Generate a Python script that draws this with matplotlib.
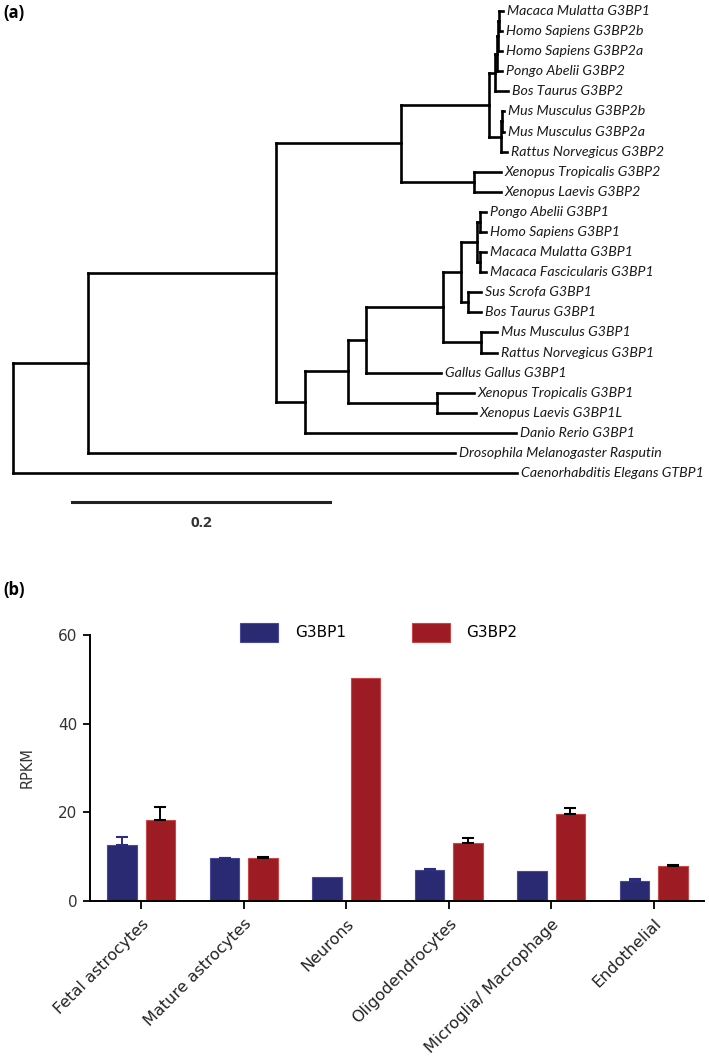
import numpy as np
import matplotlib
matplotlib.use('Agg')
import matplotlib.pyplot as plt

# ---- (a) tree data: leaves listed top to bottom, depth = distance from root
leaf_names = ['Macaca Mulatta G3BP1', 'Homo Sapiens G3BP2b', 'Homo Sapiens G3BP2a',
              'Pongo Abelii G3BP2', 'Bos Taurus G3BP2', 'Mus Musculus G3BP2b',
              'Mus Musculus G3BP2a', 'Rattus Norvegicus G3BP2', 'Xenopus Tropicalis G3BP2',
              'Xenopus Laevis G3BP2', 'Pongo Abelii G3BP1', 'Homo Sapiens G3BP1',
              'Macaca Mulatta G3BP1', 'Macaca Fascicularis G3BP1', 'Sus Scrofa G3BP1',
              'Bos Taurus G3BP1', 'Mus Musculus G3BP1', 'Rattus Norvegicus G3BP1',
              'Gallus Gallus G3BP1', 'Xenopus Tropicalis G3BP1', 'Xenopus Laevis G3BP1L',
              'Danio Rerio G3BP1', 'Drosophila Melanogaster Rasputin',
              'Caenorhabditis Elegans GTBP1']
leaf_depth = [0.380, 0.379, 0.379, 0.379, 0.384, 0.381, 0.381, 0.383, 0.378, 0.378,
              0.367, 0.367, 0.367, 0.367, 0.363, 0.363, 0.375, 0.375, 0.332, 0.357,
              0.359, 0.390, 0.343, 0.391]
leaf_parent = ['Q1', 'Q1', 'Q2', 'Q3', 'N', 'MusN', 'MusN', 'R', 'XenG2', 'XenG2',
               'P1', 'P1', 'P2', 'P2', 'SB', 'SB', 'MR1', 'MR1', 'E', 'XenG1', 'XenG1',
               'C', 'A', 'root']

node_names = ['root', 'A', 'B', 'G2', 'M', 'N', 'Q3', 'Q2', 'Q1', 'R', 'MusN', 'XenG2',
              'C', 'D', 'E', 'F', 'G', 'P', 'P1', 'P2', 'SB', 'MR1', 'XenG1']
node_depth = [0.0, 0.058, 0.204, 0.301, 0.369, 0.374, 0.375, 0.376, 0.377, 0.378, 0.379,
              0.357, 0.226, 0.260, 0.274, 0.333, 0.347, 0.360, 0.362, 0.362, 0.353,
              0.363, 0.329]
node_parent = [None, 'root', 'A', 'B', 'G2', 'M', 'N', 'Q3', 'Q2', 'M', 'R', 'G2',
               'B', 'C', 'D', 'E', 'F', 'G', 'P', 'P', 'G', 'F', 'D']

scale_len = 0.2

# ---- (b) bar data
cells = ['Fetal astrocytes', 'Mature astrocytes', 'Neurons', 'Oligodendrocytes',
         'Microglia/ Macrophage', 'Endothelial']
g3bp1 = [12.7, 9.7, 5.5, 7.0, 6.7, 4.4]
g3bp1_err = [1.8, 0.1, 0.0, 0.3, 0.0, 0.5]
g3bp2 = [18.2, 9.8, 50.3, 13.1, 19.6, 7.8]
g3bp2_err = [2.9, 0.2, 0.0, 1.1, 1.4, 0.3]

blue = '#2a2a72'
red = '#9d1b22'

W, H = 709, 1058
fig = plt.figure(figsize=(W / 100, H / 100), dpi=100)

# ---------------- panel (a)
px_per_unit = 1290.0
row = 20.09
top = 560
ax_t = fig.add_axes([0, 1 - top / H, 1, top / H])
ax_t.set_xlim(-13 / px_per_unit, (W - 13) / px_per_unit)
ax_t.set_ylim((top - 11) / row, -11 / row)
ax_t.axis('off')

depth = dict(zip(node_names, node_depth))
children = {n: [] for n in node_names}
for i, p in enumerate(leaf_parent):
    children[p].append(('leaf', i))
for n, p in zip(node_names, node_parent):
    if p is not None:
        children[p].append(('node', n))

ypos = {}


def node_y(n):
    ys = []
    for kind, c in children[n]:
        ys.append(c if kind == 'leaf' else node_y(c))
    ypos[n] = (min(ys) + max(ys)) / 2
    return ypos[n]


node_y('root')

lw = 1.9
kw = dict(color='black', lw=lw, solid_capstyle='projecting')
for n in node_names:
    ys = [c if k == 'leaf' else ypos[c] for k, c in children[n]]
    ax_t.plot([depth[n], depth[n]], [min(ys), max(ys)], **kw)
for n, p in zip(node_names, node_parent):
    if p is not None:
        ax_t.plot([depth[p], depth[n]], [ypos[n], ypos[n]], **kw)
for i, (name, d, p) in enumerate(zip(leaf_names, leaf_depth, leaf_parent)):
    ax_t.plot([depth[p], d], [i, i], **kw)
    ax_t.text(d + 0.003, i, name, fontsize=10.2, style='italic', family='Lato',
              va='center', ha='left', color='#1a1a1a')

sb_x0 = 0.0457
sb_y = (502 - 11) / row
ax_t.plot([sb_x0, sb_x0 + scale_len], [sb_y, sb_y], color='#222222', lw=2.2)
ax_t.text(sb_x0 + scale_len / 2, (523 - 11) / row, '0.2', fontsize=11, fontweight='bold',
          ha='center', va='center', color='#333333', family='Open Sans')

fig.text(3 / W, 1 - 13 / H, '(a)', fontsize=12, fontweight='bold', va='center', ha='left',
         family='Open Sans')
fig.text(3 / W, 1 - 590 / H, '(b)', fontsize=12, fontweight='bold', va='center', ha='left',
         family='Open Sans')

# ---------------- panel (b)
ax = fig.add_axes([90 / W, 157 / H, 614 / W, 266 / H])
x = np.arange(len(cells))
w = 0.29
off = 0.187
ax.bar(x - off, g3bp1, w, color=blue, edgecolor='#4a4a9a', lw=0.8, label='G3BP1')
ax.bar(x + off, g3bp2, w, color=red, edgecolor='#c84848', lw=0.8, label='G3BP2')

e1 = np.array(g3bp1_err)
e2 = np.array(g3bp2_err)
m1 = e1 > 0
m2 = e2 > 0
ax.errorbar((x - off)[m1], np.array(g3bp1)[m1], yerr=[np.zeros(m1.sum()), e1[m1]],
            fmt='none', ecolor='#2c2c80', elinewidth=1.4, capsize=4.5, capthick=1.5)
ax.errorbar((x + off)[m2], np.array(g3bp2)[m2], yerr=[np.zeros(m2.sum()), e2[m2]],
            fmt='none', ecolor='black', elinewidth=1.4, capsize=4.5, capthick=1.5)

ax.set_xlim(-0.5, 5.49)
ax.set_ylim(0, 60)
ax.set_yticks([0, 20, 40, 60])
ax.set_xticks(x)
ax.set_xticklabels(cells, rotation=45, ha='right', rotation_mode='anchor', fontsize=11.5,
                   color='#222222')
for s in ['top', 'right']:
    ax.spines[s].set_visible(False)
for s in ['left', 'bottom']:
    ax.spines[s].set_linewidth(1.4)
ax.spines['left'].set_bounds(0, 60)
ax.tick_params(axis='y', length=5, width=1.3, labelsize=11, labelcolor='#333333', pad=4)
ax.tick_params(axis='x', length=6, width=1.3, pad=5)
ax.set_ylabel('RPKM', fontsize=10.5, color='#333333')
ax.yaxis.set_label_coords(-0.09, 0.5)

ax.legend(loc='upper left', bbox_to_anchor=(0.244, 1.045), ncol=2, frameon=False,
          fontsize=11, handlelength=2.5, handleheight=1.5, handletextpad=1.1,
          columnspacing=4.3, borderaxespad=0, borderpad=0)

fig.savefig('out.png', dpi=100)
